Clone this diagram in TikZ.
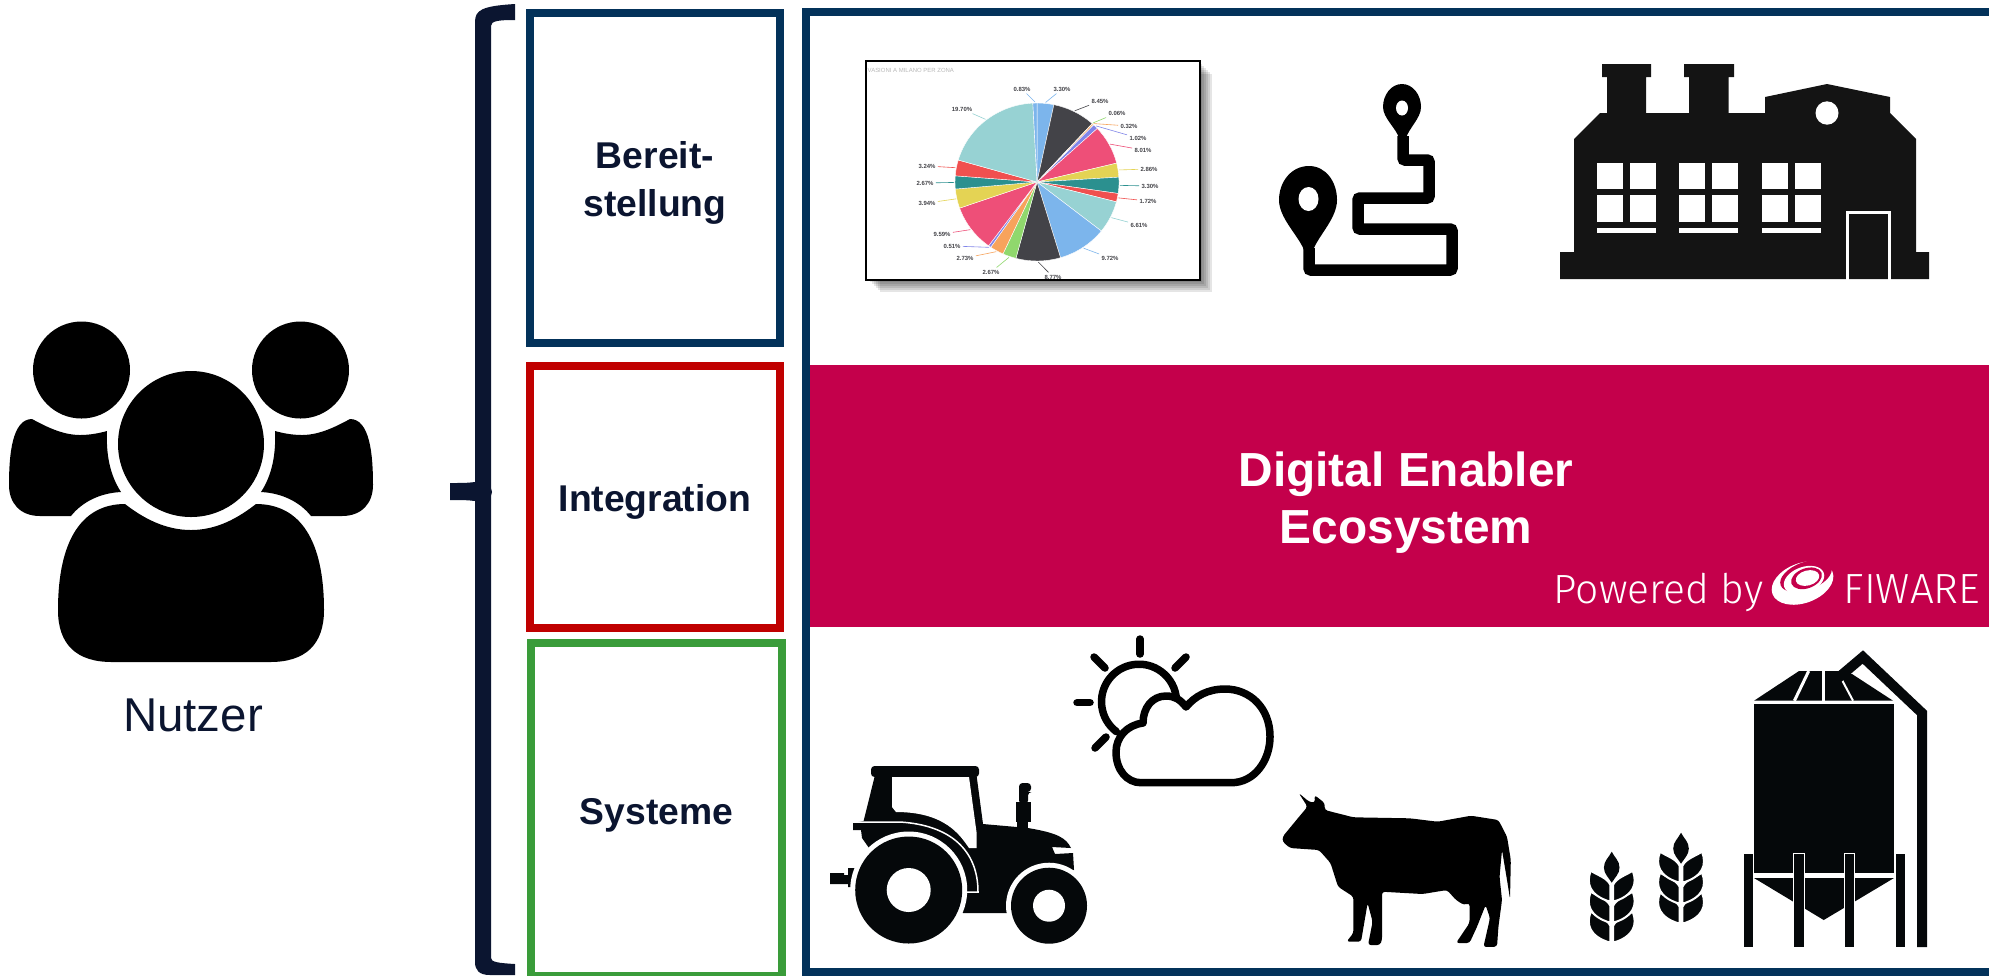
\documentclass[tikz,border=0pt]{standalone}
\usepackage{fontspec}
\setmainfont{Liberation Sans}
\newfontfamily\poweredfont{Fira Sans Light}
\definecolor{navytext}{HTML}{0B1530}
\definecolor{layerblue}{HTML}{03325A}
\definecolor{layerred}{HTML}{C00000}
\definecolor{layergreen}{HTML}{3A9C3A}
\definecolor{bandred}{HTML}{C4004B}
\definecolor{factorygray}{HTML}{141414}
\definecolor{farmblack}{HTML}{05080A}
\definecolor{pieblue}{HTML}{7CB5EC}
\definecolor{piedark}{HTML}{434348}
\definecolor{piegreen}{HTML}{90D86D}
\definecolor{pieorange}{HTML}{F7A35C}
\definecolor{piepurple}{HTML}{8085E9}
\definecolor{piepink}{HTML}{EE4F78}
\definecolor{pieyellow}{HTML}{E4D354}
\definecolor{pieteal}{HTML}{2B908F}
\definecolor{piered}{HTML}{F0504F}
\definecolor{pielight}{HTML}{97D2D3}
\tikzset{
  layerbox/.style={draw=#1,line width=0.08cm,fill=white,minimum width=2.5cm,inner sep=0pt},
  layertext/.style={align=center,text=navytext,font=\fontsize{10.6}{13.8}\selectfont\bfseries,inner sep=0pt},
  pielabel/.style={font=\fontsize{1.7}{2}\selectfont\bfseries,text=piedark,inner sep=0.5pt},
  routeline/.style={line width=0.115cm,rounded corners=0.6pt},
  rayline/.style={line width=0.075cm,line cap=round}
}
\newcommand{\wheatstalk}[2]{
  \begin{scope}[shift={(#1,#2)},farmblack]
    \fill (0,0) .. controls (3,6) and (7.8,9) .. (7.8,16) .. controls (7.8,22) and (3,26) .. (0,31)
      .. controls (-3,26) and (-7.8,22) .. (-7.8,16) .. controls (-7.8,9) and (-3,6) .. (0,0) -- cycle;
    \foreach \row in {41,21,0} {
      \filldraw[draw=white,line width=0.02cm] (1.4,33+\row) .. controls (5,26+\row) and (13,24+\row) .. (21,19+\row)
        .. controls (26,32+\row) and (22,44+\row) .. (1.4,50+\row) -- cycle;
      \filldraw[draw=white,line width=0.02cm] (-1.4,33+\row) .. controls (-5,26+\row) and (-13,24+\row) .. (-21,19+\row)
        .. controls (-26,32+\row) and (-22,44+\row) .. (-1.4,50+\row) -- cycle;
    }
  \end{scope}
}
\begin{document}
\begin{tikzpicture}[x=0.01cm,y=-0.01cm]
  \useasboundingbox (0,0) rectangle (1989,975);
  \clip (0,0) rectangle (1989,975);

  \fill (81.5,370) circle (48.5);
  \fill (300.5,370) circle (48.5);
  \fill (191,444) circle (73);
  \fill (125,504) .. controls (143,518) and (165,530) .. (191,530) .. controls (217,530) and (238,518) .. (256,504)
    .. controls (300,504) and (324,540) .. (324,610) .. controls (324,645) and (305,662) .. (270,662) -- (112,662)
    .. controls (77,662) and (58,645) .. (58,610) .. controls (58,540) and (82,504) .. (125,504) -- cycle;
  \foreach \flip/\move in {1/0,-1/382} {
    \begin{scope}[shift={(\move,0)},xscale=\flip]
      \fill (32,419) .. controls (45,426) and (62,435) .. (80,435) .. controls (90,435) and (100,433) .. (107,431)
        .. controls (106,455) and (110,475) .. (121,492) .. controls (100,493) and (82,502) .. (71,516) -- (40,516)
        .. controls (20,516) and (9,503) .. (9,485) .. controls (9,455) and (12,419) .. (32,419) -- cycle;
    \end{scope}
  }
  \node[text=navytext,font=\fontsize{13.5}{16}\selectfont,inner sep=0pt] (nutzer) at (193,715) {Nutzer};

  \fill[navytext] (515,4) -- (515,20) .. controls (498,20) and (491,21) .. (491,26) -- (491,488) -- (492,492) -- (491,496)
    -- (491,958) .. controls (491,962) and (498,963) .. (515,964) -- (515,975) -- (490,975) .. controls (479,975) and (475,970) .. (475,962)
    -- (475,501) .. controls (468,500) and (460,500) .. (450,500) -- (450,483) .. controls (460,483) and (468,483) .. (475,482)
    -- (475,22) .. controls (475,10) and (482,6) .. (515,4) -- cycle;

  \node[layerbox=layerblue,minimum height=3.3cm] (bereit) at (655,178) {};
  \node[layerbox=layerred,minimum height=2.62cm] (integration) at (655,497) {};
  \node[layerbox=layergreen,minimum height=3.33cm] (systeme) at (656.5,809.5) {};
  \node[layertext] (bereittext) at ([yshift=-0.05cm]bereit.center) {Bereit-\\stellung};
  \node[layertext] (integrationtext) at ([yshift=-0.05cm]integration.center) {Integration};
  \node[layertext] (systemetext) at ([yshift=-0.06cm]systeme.center) {Systeme};

  \draw[layerblue,line width=0.08cm] (2020,12) -- (806,12) -- (806,972) -- (2020,972);
  \fill[bandred] (810,365) rectangle (1989,627);
  \node[text=white,align=center,font=\fontsize{13.6}{16.2}\selectfont\bfseries,inner sep=0pt] (enabler) at (1406,503)
    {Digital Enabler\\Ecosystem};
  \node[text=white,anchor=base west,font=\poweredfont\fontsize{11.6}{14}\selectfont,inner sep=0pt] (powered) at (1553,603) {Powered by};
  \node[text=white,anchor=base west,font=\poweredfont\fontsize{12}{14}\selectfont,inner sep=0pt] (fiware) at (1843,603) {FIWARE};
  \fill[white,rotate around={20:(1802.5,583)}] (1802.5,583) ellipse (32 and 20);
  \fill[bandred,rotate around={20:(1806,576)}] (1806,576) ellipse (27 and 14);
  \fill[white,rotate around={20:(1804,580)}] (1804,580) ellipse (21 and 13);
  \fill[bandred,rotate around={20:(1806.5,578.3)}] (1806.5,578.3) ellipse (16 and 10);
  \fill[white,rotate around={15:(1807.5,578)}] (1807.5,578) ellipse (12 and 7.5);

  \foreach \s in {2,4,...,12} {
    \fill[black,opacity=0.1] (868+\s,62+\s) rectangle (1200+\s,280+\s);
  }
  \draw[black,fill=white,line width=0.012cm] (866,61) rectangle (1200,280);
  \node[anchor=west,text=black!28,font=\fontsize{1.7}{2}\selectfont,inner sep=0pt] (pietitle) at (867,70) {VASIONI A MILANO PER ZONA};
  \coordinate (piecentre) at (1037,182);
  \foreach \pct/\col/\lx/\ly [count=\i,evaluate=\pct as \sliceend using \slicestart+3.6*\pct,remember=\sliceend as \slicestart (initially -90)] in
    {3.30/pieblue/1062/89,8.45/piedark/1100/101,0.06/piegreen/1117/113,0.32/pieorange/1129/126,1.02/piepurple/1138/138,
     8.01/piepink/1143/150,2.86/pieyellow/1149/169,3.30/pieteal/1150/186,1.72/piered/1148/201,6.61/pielight/1139/225,
     9.72/pieblue/1110/258,8.77/piedark/1053/277,2.67/piegreen/991/272,2.73/pieorange/965/258,0.51/piepurple/952/246,
     9.59/piepink/942/234,3.94/pieyellow/927/203,2.67/pieteal/925/183,3.24/piered/927/166,19.70/pielight/962/109,0.83/pieblue/1022/89} {
    \pgfmathsetmacro\slicemid{(\slicestart+\sliceend)/2}
    \filldraw[fill=\col,draw=white,line width=0.004cm] (piecentre) -- ++(\slicestart:82 and 79) arc (\slicestart:\sliceend:82 and 79) -- cycle;
    \node[pielabel] (pct\i) at (\lx,\ly) {\pct\%};
    \draw[\col,line width=0.006cm] (piecentre) ++(\slicemid:83 and 80) -- (pct\i);
  }

  \fill (1309,166) .. controls (1291,166) and (1279,182) .. (1279,200) .. controls (1279,218) and (1298,235) .. (1304,250)
    -- (1313,250) .. controls (1319,235) and (1337,218) .. (1337,200) .. controls (1337,182) and (1326,166) .. (1309,166) -- cycle;
  \fill[white] (1308.5,199) ellipse (10 and 12);
  \fill (1402,84) .. controls (1391,84) and (1383,95) .. (1383,107) .. controls (1383,118) and (1396,128) .. (1399,138)
    -- (1406,138) .. controls (1409,128) and (1421,118) .. (1421,107) .. controls (1421,95) and (1413,84) .. (1402,84) -- cycle;
  \fill[white] (1402,108) ellipse (6 and 7.5);
  \draw[routeline] (1403,136) -- (1403,160) -- (1429,160) -- (1429,198) -- (1358,198) -- (1358,229) -- (1452,229) -- (1452,270) -- (1309,270) -- (1309,248);

  \fill[factorygray] (1560,279) -- (1560,252) -- (1574,252) -- (1574,139) -- (1600,113) -- (1607,113) -- (1607,77) -- (1602,77) -- (1602,64)
    -- (1651,64) -- (1651,77) -- (1646,77) -- (1646,113) -- (1689,113) -- (1689,77) -- (1684,77) -- (1684,64) -- (1734,64) -- (1734,77)
    -- (1728.5,77) -- (1728.5,113) -- (1765,113) -- (1765,97) -- (1827,84) -- (1890,97) -- (1890,113) -- (1916,139) -- (1916,252)
    -- (1929,252) -- (1929,279) -- cycle;
  \fill[white] (1827,113) ellipse (11.5 and 11.7);
  \foreach \wx in {1597,1679,1761.5} {
    \fill[white] (\wx,163) rectangle (\wx+26,189);
    \fill[white] (\wx+33,163) rectangle (\wx+59,189);
    \fill[white] (\wx,195) rectangle (\wx+26,222);
    \fill[white] (\wx+33,195) rectangle (\wx+59,222);
    \fill[white] (\wx,228) rectangle (\wx+59,233);
  }
  \draw[white,line width=0.025cm] (1847.5,280) -- (1847.5,212.5) -- (1889.5,212.5) -- (1889.5,280);

  \begin{scope}[farmblack]
    \fill (830,873) -- (844,873) -- (844,875) -- (848,875) -- (848,868) -- (858,868) -- (858,887) -- (848,887) -- (848,884) -- (830,884) -- cycle;
    \fill[rounded corners=1pt] (871,777) -- (871,766) -- (979,766) -- (979,777) -- cycle;
    \fill (875,775) -- (863.6,821) -- (853,823) -- (853,830) -- (861,830) -- (862,838) -- (869,848) -- (900,900) -- (963,913) -- (1007,913)
      -- (1030,880) -- (1074,870) -- (1073,853) -- (1055,854) -- (1052,847) -- (1071,848) .. controls (1066,838) and (1058,833) .. (1028,828)
      -- (1017,827) -- (983,824) -- (976.5,775) -- cycle;
    \fill (1016,802) rectangle (1030.5,822);
    \fill (1017,822) rectangle (1028,832);
    \fill[rounded corners=1pt] (1019,804) -- (1019,783) -- (1031,783) -- (1031,792) -- (1028,792) -- (1028,804) -- cycle;
    \draw[white,line width=0.015cm] (853,822) -- (900,822) .. controls (950,825) and (978,850) .. (978,892) -- (967,892);
    \fill[white] (908.7,890) circle (58.5);
    \fill[white] (1049,905.7) circle (43);
    \fill (908.7,890) circle (53.5);
    \fill (1049,905.7) circle (38);
    \fill[white] (908.7,890) circle (22);
    \fill[white] (1049,905.7) circle (16);
    \fill[white] (892,777) -- (969,777) -- (976.5,832) -- (976.5,848) -- (969,848) .. controls (960,835) and (945,812) .. (896,812) -- (892,807) -- cycle;
  \end{scope}

  \draw[rayline] (1139,701.7) +(127:37.5) arc (127:357:37.5);
  \draw[rayline,fill=white,line join=round] (1141,782.7) -- (1231,782.7) .. controls (1255,782.7) and (1270,760) .. (1270,736.7)
    .. controls (1270,708) and (1250,689) .. (1225,689) .. controls (1208,689) and (1195,696) .. (1186,707)
    .. controls (1180,699) and (1174,696) .. (1166,696) .. controls (1152,696) and (1143,708) .. (1143,723)
    .. controls (1127,725) and (1116,737) .. (1116,752) .. controls (1116,770) and (1127,782.7) .. (1141,782.7) -- cycle;
  \draw[rayline] (1140,639) -- (1140,654);
  \draw[rayline] (1186,657) -- (1175,668);
  \draw[rayline] (1094,657) -- (1105,668);
  \draw[rayline] (1077,702.7) -- (1090,702.7);
  \draw[rayline] (1106,737) -- (1095,748);

  \fill[rounded corners=0.8pt] (1282.6,836.7) -- (1298,818) -- (1307.5,806.7) -- (1298.7,793) -- (1309,801.7) -- (1315,802.7) -- (1314.4,795)
    -- (1324.7,803) -- (1324.7,810) -- (1353.4,817.3) -- (1410,818.3) -- (1437.6,821.7) -- (1471,815.7) -- (1498.4,820) -- (1507,836.7)
    -- (1510.8,860) -- (1510,899) -- (1507,880) -- (1502,850) -- (1499.5,876.7) -- (1502,900) -- (1498.4,926.7) -- (1497,946.7) -- (1483.4,947)
    -- (1490,918) -- (1485.6,905) -- (1477,926.7) -- (1469.5,943) -- (1456,943) -- (1469.5,923) -- (1469.5,903) -- (1464,905) -- (1456,900)
    -- (1447,890) -- (1422.5,894) -- (1382,891.7) -- (1382,940) -- (1380,945) -- (1368,945) -- (1372.6,921.7) -- (1367.6,903) -- (1361,941.7)
    -- (1346.5,941.7) -- (1353.4,933) -- (1353.4,896.7) -- (1338,886.7) -- (1330.5,863) -- (1319,850) -- (1290,848) -- (1282.6,841.7) -- cycle;

  \wheatstalk{1611.7}{851.7}
  \wheatstalk{1681}{832.7}

  \begin{scope}[farmblack]
    \fill (1754,704) rectangle (1894,873);
    \fill (1754,700.7) -- (1799,671) -- (1838,671) -- (1852,674) -- (1893,700.7) -- cycle;
    \draw[white,line width=0.03cm] (1808.7,671) -- (1794.4,700.7);
    \draw[white,line width=0.03cm] (1823.7,671) -- (1823.7,700.7);
    \draw[white,line width=0.02cm] (1842,680) -- (1853,700.7);
    \draw[line width=0.1cm,line join=miter] (1838,678) -- (1862.8,657) -- (1922,713) -- (1922,947);
    \fill (1754,878) -- (1894,878) -- (1823.7,920) -- cycle;
    \fill[draw=white,line width=0.004cm] (1743,853) rectangle (1753,947);
    \fill[draw=white,line width=0.008cm] (1793,853) rectangle (1804,947);
    \fill[draw=white,line width=0.008cm] (1844,853) rectangle (1854.5,947);
    \fill[draw=white,line width=0.004cm] (1895,853) rectangle (1905,947);
  \end{scope}
\end{tikzpicture}
\end{document}
